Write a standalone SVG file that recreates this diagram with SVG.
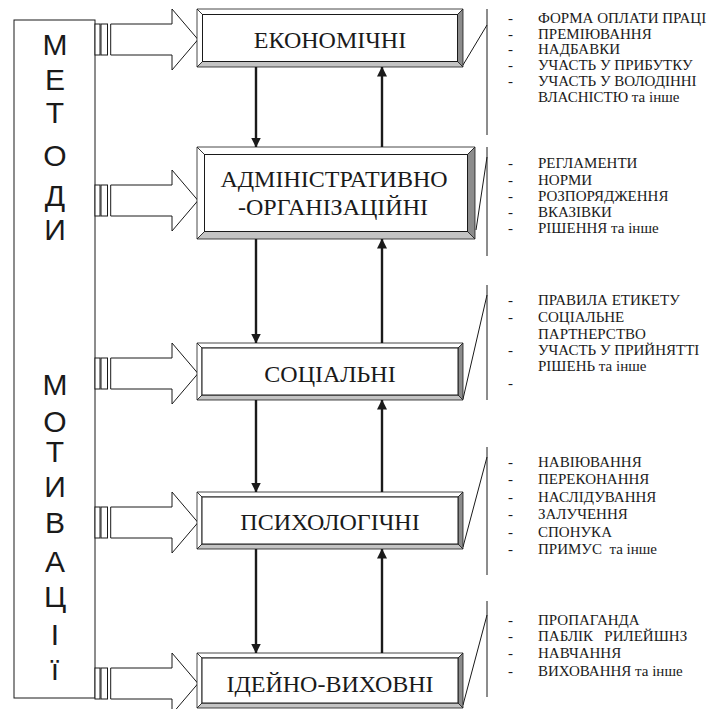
<svg xmlns="http://www.w3.org/2000/svg" width="722" height="709" viewBox="0 0 722 709">
<defs>
<style>
.ln{stroke:#1a1a1a;stroke-width:1;fill:none}
.box{fill:#fff;stroke:#1a1a1a;stroke-width:1}
.hol{fill:#fff;stroke:#1a1a1a;stroke-width:1}
.lt{fill:#fff;stroke:#1a1a1a;stroke-width:0.8}
.dk{fill:#8c8c8c;stroke:#1a1a1a;stroke-width:0.8}
.md{fill:#c4c4c4;stroke:#1a1a1a;stroke-width:0.8}
.big{font-family:"Liberation Sans",Arial,sans-serif;font-size:30px;fill:#1a1a1a;text-anchor:middle}
.nt{font-family:"Liberation Serif","Times New Roman",serif;font-size:24px;fill:#1a1a1a;text-anchor:middle}
.li{font-family:"Liberation Serif","Times New Roman",serif;font-size:15px;fill:#1a1a1a;white-space:pre}
.va{stroke:#1a1a1a;stroke-width:2.4;fill:none;marker-end:url(#ah)}
</style>
<marker id="ah" markerWidth="10" markerHeight="11" refX="9.5" refY="5" orient="auto" markerUnits="userSpaceOnUse">
<path d="M0,0 L10,5 L0,10 Z" fill="#1a1a1a"/>
</marker>
</defs>
<rect width="722" height="709" fill="#fff"/>

<g id="methods">
<rect class="box" x="14" y="20" width="81" height="678"/>
<text class="big" x="55" y="55">М</text>
<text class="big" x="55" y="90">Е</text>
<text class="big" x="55" y="123">Т</text>
<text class="big" x="55" y="166">О</text>
<text class="big" x="55" y="206">Д</text>
<text class="big" x="55" y="240">И</text>
<text class="big" x="55" y="395">М</text>
<text class="big" x="55" y="432">О</text>
<text class="big" x="55" y="462">Т</text>
<text class="big" x="55" y="497">И</text>
<text class="big" x="55" y="533">В</text>
<text class="big" x="55" y="572">А</text>
<text class="big" x="55" y="607">Ц</text>
<text class="big" x="55" y="645">І</text>
<text class="big" x="55" y="680">ї</text>
</g>

<g id="connectors">
<g id="hollow-arrows">
<g transform="translate(0,39.5)">
<rect class="hol" x="95" y="-15.5" width="5" height="31"/>
<rect class="hol" x="101" y="-15.5" width="6.5" height="31"/>
<path class="hol" d="M110.7,-15.5 H172 V-30.5 L198,0 L172,30.5 V15.5 H110.7 Z"/>
</g>
<g transform="translate(0,200.5)">
<rect class="hol" x="95" y="-15.5" width="5" height="31"/>
<rect class="hol" x="101" y="-15.5" width="6.5" height="31"/>
<path class="hol" d="M110.7,-15.5 H172 V-30.5 L198,0 L172,30.5 V15.5 H110.7 Z"/>
</g>
<g transform="translate(0,373.5)">
<rect class="hol" x="95" y="-15.5" width="5" height="31"/>
<rect class="hol" x="101" y="-15.5" width="6.5" height="31"/>
<path class="hol" d="M110.7,-15.5 H172 V-30.5 L198,0 L172,30.5 V15.5 H110.7 Z"/>
</g>
<g transform="translate(0,522.5)">
<rect class="hol" x="95" y="-15.5" width="5" height="31"/>
<rect class="hol" x="101" y="-15.5" width="6.5" height="31"/>
<path class="hol" d="M110.7,-15.5 H172 V-30.5 L198,0 L172,30.5 V15.5 H110.7 Z"/>
</g>
<g transform="translate(0,683.5)">
<rect class="hol" x="95" y="-15.5" width="5" height="31"/>
<rect class="hol" x="101" y="-15.5" width="6.5" height="31"/>
<path class="hol" d="M110.7,-15.5 H172 V-30.5 L198,0 L172,30.5 V15.5 H110.7 Z"/>
</g>
</g>
<g id="vertical-arrows">
<line class="va" x1="256" y1="67" x2="256" y2="147"/>
<line class="va" x1="382" y1="147" x2="382" y2="67"/>
<line class="va" x1="256" y1="239" x2="256" y2="343"/>
<line class="va" x1="382" y1="343" x2="382" y2="239"/>
<line class="va" x1="256" y1="400" x2="256" y2="492"/>
<line class="va" x1="382" y1="492" x2="382" y2="400"/>
<line class="va" x1="256" y1="549" x2="256" y2="653"/>
<line class="va" x1="382" y1="653" x2="382" y2="549"/>
</g>
<g id="brackets">
<line class="ln" x1="487" y1="9" x2="487" y2="135"/>
<line class="ln" x1="463" y1="65" x2="487" y2="25"/>
<line class="ln" x1="487" y1="147" x2="487" y2="256"/>
<line class="ln" x1="476" y1="230" x2="487" y2="157"/>
<line class="ln" x1="487" y1="285" x2="487" y2="400"/>
<line class="ln" x1="463" y1="399" x2="487" y2="295"/>
<line class="ln" x1="487" y1="447" x2="487" y2="575"/>
<line class="ln" x1="463" y1="547" x2="487" y2="457"/>
<line class="ln" x1="487" y1="601" x2="487" y2="697"/>
<line class="ln" x1="463" y1="705" x2="487" y2="615"/>
</g>
</g>

<g id="node-economic">
<polygon class="lt" points="197,9 463,9 457.5,14.5 202.5,14.5"/>
<polygon class="lt" points="197,9 202.5,14.5 202.5,61.5 197,67"/>
<polygon class="dk" points="463,9 463,67 457.5,61.5 457.5,14.5"/>
<polygon class="md" points="197,67 463,67 457.5,61.5 202.5,61.5"/>
<rect class="box" x="202.5" y="14.5" width="255" height="47"/>
<text class="nt" x="330" y="48" font-family="Liberation Serif, serif">ЕКОНОМІЧНІ</text>
</g>

<g id="node-admin">
<polygon class="lt" points="197,147 475,147 467.5,154.5 204.5,154.5"/>
<polygon class="lt" points="197,147 204.5,154.5 204.5,231.5 197,239"/>
<polygon class="dk" points="475,147 475,239 467.5,231.5 467.5,154.5"/>
<polygon class="md" points="197,239 475,239 467.5,231.5 204.5,231.5"/>
<rect class="box" x="204.5" y="154.5" width="263" height="77"/>
<text class="nt" x="334" y="187">АДМІНІСТРАТИВНО</text>
<text class="nt" x="333" y="215">-ОРГАНІЗАЦІЙНІ</text>
</g>

<g id="node-social">
<polygon class="lt" points="197,343 463,343 458,348 202,348"/>
<polygon class="lt" points="197,343 202,348 202,395 197,400"/>
<polygon class="dk" points="463,343 463,400 458,395 458,348"/>
<polygon class="md" points="197,400 463,400 458,395 202,395"/>
<rect class="box" x="202" y="348" width="256" height="47"/>
<text class="nt" x="330" y="382">СОЦІАЛЬНІ</text>
</g>

<g id="node-psych">
<polygon class="lt" points="197,492 463,492 458,497 202,497"/>
<polygon class="lt" points="197,492 202,497 202,544 197,549"/>
<polygon class="dk" points="463,492 463,549 458,544 458,497"/>
<polygon class="md" points="197,549 463,549 458,544 202,544"/>
<rect class="box" x="202" y="497" width="256" height="47"/>
<text class="nt" x="330" y="530">ПСИХОЛОГІЧНІ</text>
</g>

<g id="node-ideological">
<polygon class="lt" points="197,653 463,653 458,658 202,658"/>
<polygon class="lt" points="197,653 202,658 202,703 197,708"/>
<polygon class="dk" points="463,653 463,708 458,703 458,658"/>
<polygon class="md" points="197,708 463,708 458,703 202,703"/>
<rect class="box" x="202" y="658" width="256" height="45"/>
<text class="nt" x="330" y="692">ІДЕЙНО-ВИХОВНІ</text>
</g>

<g id="list-economic">
<text class="li" x="508" y="23">-</text><text class="li" x="538" y="23">ФОРМА ОПЛАТИ ПРАЦІ</text>
<text class="li" x="508" y="39">-</text><text class="li" x="538" y="39">ПРЕМІЮВАННЯ</text>
<text class="li" x="508" y="54">-</text><text class="li" x="538" y="54">НАДБАВКИ</text>
<text class="li" x="508" y="70">-</text><text class="li" x="538" y="70">УЧАСТЬ У ПРИБУТКУ</text>
<text class="li" x="508" y="86">-</text><text class="li" x="538" y="86">УЧАСТЬ У ВОЛОДІННІ</text>
<text class="li" x="538" y="102">ВЛАСНІСТЮ та інше</text>
</g>

<g id="list-admin">
<text class="li" x="508" y="168">-</text><text class="li" x="538" y="168">РЕГЛАМЕНТИ</text>
<text class="li" x="508" y="185">-</text><text class="li" x="538" y="185">НОРМИ</text>
<text class="li" x="508" y="201">-</text><text class="li" x="538" y="201">РОЗПОРЯДЖЕННЯ</text>
<text class="li" x="508" y="217">-</text><text class="li" x="538" y="217">ВКАЗІВКИ</text>
<text class="li" x="508" y="233">-</text><text class="li" x="538" y="233">РІШЕННЯ та інше</text>
</g>

<g id="list-social">
<text class="li" x="508" y="305">-</text><text class="li" x="538" y="305">ПРАВИЛА ЕТИКЕТУ</text>
<text class="li" x="508" y="322">-</text><text class="li" x="538" y="322">СОЦІАЛЬНЕ</text>
<text class="li" x="538" y="339">ПАРТНЕРСТВО</text>
<text class="li" x="508" y="355">-</text><text class="li" x="538" y="355">УЧАСТЬ У ПРИЙНЯТТІ</text>
<text class="li" x="538" y="371">РІШЕНЬ та інше</text>
<text class="li" x="508" y="388">-</text>
</g>

<g id="list-psych">
<text class="li" x="508" y="467">-</text><text class="li" x="538" y="467">НАВІЮВАННЯ</text>
<text class="li" x="508" y="484">-</text><text class="li" x="538" y="484">ПЕРЕКОНАННЯ</text>
<text class="li" x="508" y="502">-</text><text class="li" x="538" y="502">НАСЛІДУВАННЯ</text>
<text class="li" x="508" y="519">-</text><text class="li" x="538" y="519">ЗАЛУЧЕННЯ</text>
<text class="li" x="508" y="537">-</text><text class="li" x="538" y="537">СПОНУКА</text>
<text class="li" x="508" y="554">-</text><text class="li" x="538" y="554">ПРИМУС  та інше</text>
</g>

<g id="list-ideological">
<text class="li" x="508" y="625">-</text><text class="li" x="538" y="625">ПРОПАГАНДА</text>
<text class="li" x="508" y="641">-</text><text class="li" x="538" y="641">ПАБЛІК   РИЛЕЙШНЗ</text>
<text class="li" x="508" y="658">-</text><text class="li" x="538" y="658">НАВЧАННЯ</text>
<text class="li" x="508" y="676">-</text><text class="li" x="538" y="676">ВИХОВАННЯ та інше</text>
</g>
</svg>
